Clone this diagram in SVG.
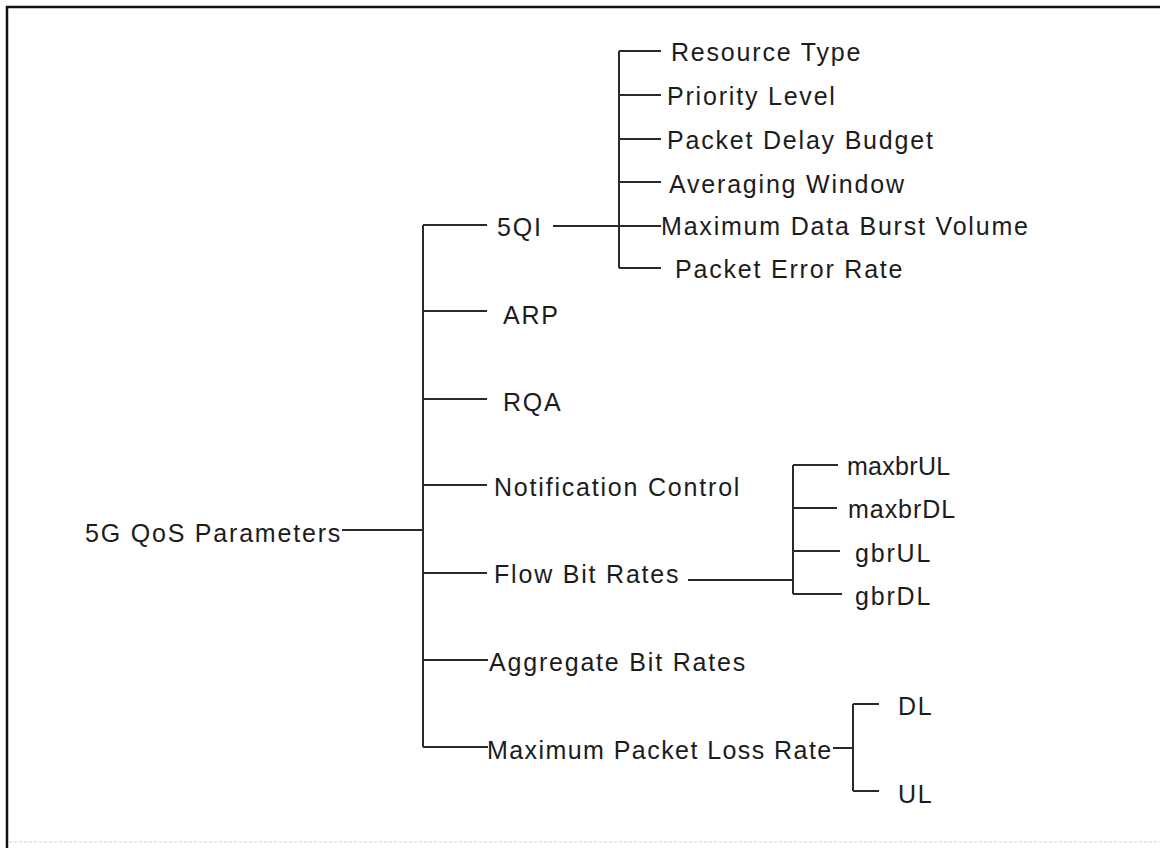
<svg xmlns="http://www.w3.org/2000/svg" width="1160" height="848" viewBox="0 0 1160 848">
  <style>
    .lbl { font-family: "Liberation Sans", Arial, sans-serif; font-size: 25px; letter-spacing: 1.8px; fill: #1c1c1c; }
    .wire { stroke: #2a2a2a; stroke-width: 2; fill: none; }
    .frame { stroke: #111; stroke-width: 2.5; fill: none; }
  </style>
  <rect width="1160" height="848" fill="#ffffff"/>
  <!-- frame -->
  <path class="frame" d="M7,848 V7 H1160"/>
  <line x1="9" y1="842" x2="1160" y2="842" stroke="#e2e2e2" stroke-width="1.5" stroke-dasharray="3 2"/>

  <!-- connectors -->
  <g id="connectors">
    <!-- root to trunk -->
    <path class="wire" d="M342,530 H423"/>
    <path class="wire" d="M423,225 V747"/>
    <path class="wire" d="M423,225 H487 M423,311 H487 M423,399 H487 M423,485 H487 M423,573 H487 M423,660 H488 M423,747 H488"/>
    <!-- 5QI subtree -->
    <path class="wire" d="M553,226 H661"/>
    <path class="wire" d="M619,51 V268"/>
    <path class="wire" d="M619,51 H661 M619,95 H661 M619,139 H661 M619,182 H661 M619,268 H661"/>
    <!-- Flow Bit Rates subtree -->
    <path class="wire" d="M688,580 H793"/>
    <path class="wire" d="M793,465 V594"/>
    <path class="wire" d="M793,465 H838 M793,508 H837 M793,551 H840 M793,594 H842"/>
    <!-- Maximum Packet Loss Rate subtree -->
    <path class="wire" d="M833,748 H853"/>
    <path class="wire" d="M853,704 V791"/>
    <path class="wire" d="M853,704 H879 M853,791 H879"/>
  </g>

  <g id="root"><text class="lbl" x="85" y="542">5G QoS Parameters</text></g>

  <g id="n-5qi"><text class="lbl" x="497" y="236">5QI</text></g>
  <g id="n-arp"><text class="lbl" x="503" y="324">ARP</text></g>
  <g id="n-rqa"><text class="lbl" x="503" y="411">RQA</text></g>
  <g id="n-notification"><text class="lbl" x="494" y="496">Notification Control</text></g>
  <g id="n-flow"><text class="lbl" x="494" y="583">Flow Bit Rates</text></g>
  <g id="n-aggregate"><text class="lbl" x="489" y="671">Aggregate Bit Rates</text></g>
  <g id="n-mplr"><text class="lbl" x="487" y="759" textLength="346">Maximum Packet Loss Rate</text></g>

  <g id="n-resource-type"><text class="lbl" x="671" y="61">Resource Type</text></g>
  <g id="n-priority"><text class="lbl" x="667" y="105">Priority Level</text></g>
  <g id="n-pdb"><text class="lbl" x="667" y="149">Packet Delay Budget</text></g>
  <g id="n-avg-window"><text class="lbl" x="669" y="193">Averaging Window</text></g>
  <g id="n-mdbv"><text class="lbl" x="661" y="235">Maximum Data Burst Volume</text></g>
  <g id="n-per"><text class="lbl" x="675" y="278">Packet Error Rate</text></g>

  <g id="n-maxbrul"><text class="lbl" x="847" y="475" textLength="105">maxbrUL</text></g>
  <g id="n-maxbrdl"><text class="lbl" x="848" y="518" textLength="109">maxbrDL</text></g>
  <g id="n-gbrul"><text class="lbl" x="855" y="562">gbrUL</text></g>
  <g id="n-gbrdl"><text class="lbl" x="855" y="605">gbrDL</text></g>

  <g id="n-dl"><text class="lbl" x="898" y="715">DL</text></g>
  <g id="n-ul"><text class="lbl" x="898" y="803">UL</text></g>
</svg>
